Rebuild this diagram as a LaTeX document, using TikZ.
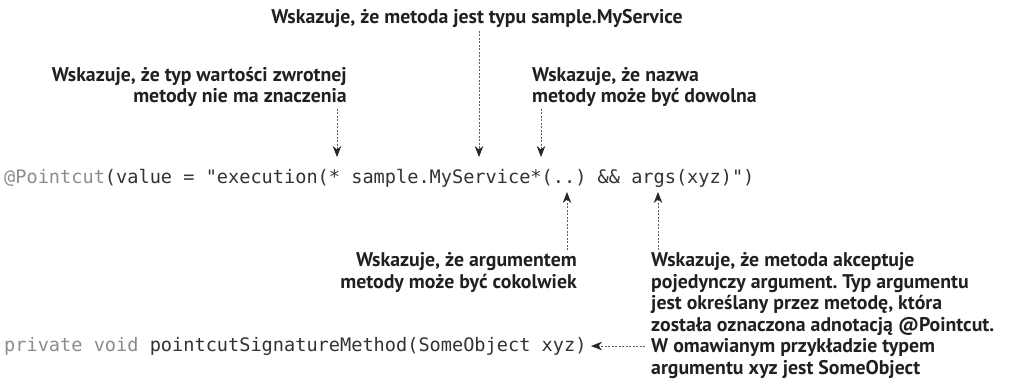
\documentclass[tikz,border=0pt]{standalone}
\usepackage{fontspec}
\setmonofont{DejaVu Sans Mono}
\newfontfamily\notefont{PT Sans}
\usetikzlibrary{arrows.meta}
\frenchspacing
\definecolor{code_gray}{RGB}{140, 140, 140}
\definecolor{code_dark}{RGB}{50, 50, 50}
\definecolor{note_dark}{RGB}{35, 31, 32}
\definecolor{ptr_gray}{RGB}{95, 95, 95}
\tikzstyle{note}=[font=\notefont\bfseries\fontsize{19.8}{21.5}\selectfont,
  text=note_dark,inner sep=0pt]
\tikzstyle{code}=[font=\ttfamily\fontsize{18.6}{22}\selectfont,
  text=code_dark,inner sep=0pt,anchor=base west]
\tikzstyle{ptr}=[draw=ptr_gray,line width=0.8pt,dash pattern=on 2pt off 1.5pt,
  -{Stealth[length=11pt,width=8.5pt,color=black!85]}]
\tikzstyle{none}=[]

\begin{document}
\begin{tikzpicture}[x=1pt,y=-1pt]
            \useasboundingbox (0, 0) rectangle (1017, 385);
            \node [style=code] (0) at (4, 183) {\textcolor{code_gray}{@Pointcut}(value = "execution(* sample.MyService*(..) \&\& args(xyz)")};
            \node [style=code] (1) at (4, 351) {\textcolor{code_gray}{private void} pointcutSignatureMethod(SomeObject xyz)};
            \node [style=note, anchor=base] (2) at (477, 24) {Wskazuje, że metoda jest typu sample.MyService};
            % base anchor of a multi-line note sits on its last line
            \node [style=note, align=right, anchor=base east] (3) at (347, 103) {Wskazuje, że typ wartości zwrotnej\\metody nie ma znaczenia};
            \node [style=note, align=left, anchor=base west] (4) at (532, 103) {Wskazuje, że nazwa\\metody może być dowolna};
            \node [style=note, align=right, anchor=base east] (5) at (577, 288) {Wskazuje, że argumentem\\metody może być cokolwiek};
            \node [style=note, align=left, anchor=base west] (6) at (651, 374) {Wskazuje, że metoda akceptuje\\pojedynczy argument. Typ argumentu\\jest określany przez metodę, która\\została oznaczona adnotacją @Pointcut.\\W omawianym przykładzie typem\\argumentu xyz jest SomeObject};
            \node [style=none] (7) at (337, 109) {};
            \node [style=none] (8) at (337, 157) {};
            \node [style=none] (9) at (479, 31) {};
            \node [style=none] (10) at (479, 157) {};
            \node [style=none] (11) at (541, 109) {};
            \node [style=none] (12) at (541, 157) {};
            \node [style=none] (13) at (567, 250) {};
            \node [style=none] (14) at (567, 192) {};
            \node [style=none] (15) at (658, 250) {};
            \node [style=none] (16) at (658, 192) {};
            \node [style=none] (17) at (645, 346) {};
            \node [style=none] (18) at (591, 346) {};
            \draw [style=ptr] (7.center) to (8.center);
            \draw [style=ptr] (9.center) to (10.center);
            \draw [style=ptr] (11.center) to (12.center);
            \draw [style=ptr] (13.center) to (14.center);
            \draw [style=ptr] (15.center) to (16.center);
            \draw [style=ptr] (17.center) to (18.center);
\end{tikzpicture}
\end{document}
